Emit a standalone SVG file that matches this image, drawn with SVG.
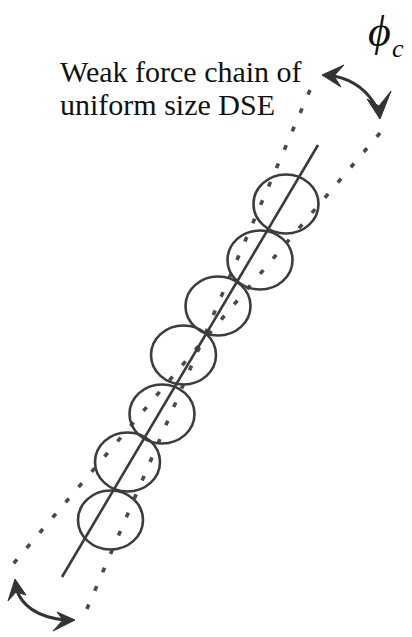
<svg xmlns="http://www.w3.org/2000/svg" width="412" height="637" viewBox="0 0 412 637">
<style>
.ball{fill:none;stroke:#3c3c3c;stroke-width:2.6}
.axis{stroke:#3a3a3a;stroke-width:2.6;fill:none}
.dot{stroke:#4a4a4a;stroke-width:3.6;stroke-dasharray:5 15;fill:none}
.arc{stroke:#333;stroke-width:3;fill:none}
.head{fill:#333;stroke:#333;stroke-width:1;stroke-linejoin:round}
</style>
<rect width="412" height="637" fill="#fff"/>
<g id="connectors">
<line class="dot" x1="310" y1="90" x2="83" y2="618"/>
<line class="dot" x1="380" y1="133" x2="8" y2="570"/>
<line class="axis" x1="318" y1="145" x2="62" y2="577"/>
<path class="arc" d="M334,76 Q364,82 378,110"/>
<polygon class="head" points="322,75 344,65 334,76 341,87"/>
<polygon class="head" points="380,119 367,99 379,106 391,91"/>
<path class="arc" d="M16,588 Q24,615 64,620"/>
<polygon class="head" points="15,579 8,601 16,592 26,595"/>
<polygon class="head" points="75,620 57,612 63,620 53,631"/>
</g>
<g id="c1"><ellipse class="ball" cx="286" cy="204" rx="32.5" ry="29.5"/></g>
<g id="c2"><ellipse class="ball" cx="260" cy="260" rx="32.5" ry="29.5"/></g>
<g id="c3"><ellipse class="ball" cx="218" cy="306" rx="32.5" ry="29.5"/></g>
<g id="c4"><ellipse class="ball" cx="183.5" cy="355" rx="32.5" ry="29.5"/></g>
<g id="c5"><ellipse class="ball" cx="162" cy="414" rx="32.5" ry="29.5"/></g>
<g id="c6"><ellipse class="ball" cx="127.5" cy="462" rx="32.5" ry="29.5"/></g>
<g id="c7"><ellipse class="ball" cx="110.5" cy="520" rx="32.5" ry="29.5"/></g>
<g id="label" font-family="'Liberation Serif', 'DejaVu Serif', serif" fill="#111">
<text x="60" y="82" font-size="30">Weak force chain of</text>
<text x="60" y="115" font-size="30">uniform size DSE</text>
</g>
<g id="phi" font-family="'Liberation Serif', 'DejaVu Serif', serif" fill="#111">
<text x="368" y="46" font-size="44" font-style="italic">ϕ<tspan x="392" y="57" font-size="26">c</tspan></text>
</g>
</svg>
